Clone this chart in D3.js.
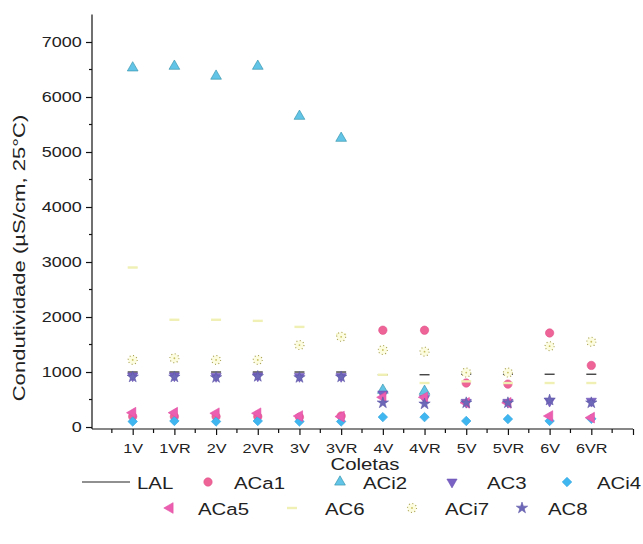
<!DOCTYPE html>
<html lang="pt">
<head>
    <meta charset="UTF-8">
    <title>Condutividade por coleta</title>
    <script src="https://d3js.org/d3.v7.min.js"></script>
    <style>
        body { margin: 0; background: #fff; }
        svg { display: block; font-family: "Liberation Sans", Arial, sans-serif; }
    </style>
</head>
<body>
    <script>
        // coletas and values (uS/cm, 25 C)
        const coletas = ["1V", "1VR", "2V", "2VR", "3V", "3VR", "4V", "4VR", "5V", "5VR", "6V", "6VR"];
        const yTicks = [0, 1000, 2000, 3000, 4000, 5000, 6000, 7000];

        const LAL  = [1000, 1000, 1000, 1000, 1000, 1000, 950, 950, 960, 960, 960, 960];
        const ACa1 = [190, 190, 190, 190, 180, 200, 1760, 1760, 800, 780, 1710, 1120];
        const ACi2 = [6530, 6560, 6380, 6560, 5650, 5250, 670, 650, null, null, null, null];
        const AC3  = [930, 930, 920, 930, 920, 920, 600, 520, 450, 450, 470, 470];
        const ACi4 = [100, 110, 100, 110, 100, 100, 180, 180, 110, 145, 110, 150];
        const ACa5 = [260, 260, 250, 250, 200, 190, 540, 540, 440, 440, 200, 170];
        const AC6  = [2900, 1950, 1950, 1930, 1820, 1680, 950, 800, 830, 800, 800, 800];
        const ACi7 = [1220, 1250, 1220, 1220, 1490, 1640, 1400, 1370, 990, 990, 1470, 1550];
        const AC8  = [910, 910, 900, 920, 900, 910, 440, 420, 440, 440, 490, 440];

        const w = 643, h = 544;
        const sx = 1.2; // the source lettering is a little wider than Arial

        const svg = d3.select("body").append("svg")
            .attr("width", w)
            .attr("height", h);

        const x = d3.scaleLinear().domain([0, 13]).range([91, 633]);
        const y = d3.scaleLinear().domain([-36, 7500]).range([429, 14.5]);

        // axes
        const yAxis = d3.axisLeft(y).tickValues(yTicks).tickFormat(d3.format("d"))
            .tickSize(6).tickPadding(2.5);
        const gy = svg.append("g").attr("transform", "translate(92,0)").call(yAxis);
        gy.select(".domain").attr("d", "M0," + y(7500) + "V" + y(-36));
        gy.selectAll(".minor").data(d3.range(500, 7500, 1000)).enter()
            .append("line").attr("class", "minor")
            .attr("x1", -3).attr("x2", 0)
            .attr("y1", d => y(d)).attr("y2", d => y(d));

        const xAxis = d3.axisBottom(x)
            .tickValues(d3.range(1, 14))
            .tickFormat(d => coletas[d - 1] || "")
            .tickSize(6).tickPadding(8);
        const gx = svg.append("g").attr("transform", "translate(0," + y(-36) + ")").call(xAxis);
        gx.select(".domain").attr("d", "M92,0H633");
        gx.selectAll(".minor").data(d3.range(0.5, 13, 1)).enter()
            .append("line").attr("class", "minor")
            .attr("x1", d => x(d)).attr("x2", d => x(d))
            .attr("y1", 0).attr("y2", 4);

        [gx, gy].forEach(g => {
            g.selectAll("path, line").attr("stroke", "#111").attr("stroke-width", 1.2);
            g.selectAll("text").attr("fill", "#222")
                .attr("font-family", "'Liberation Sans', Arial, sans-serif")
                .attr("transform", "scale(" + sx + ",1)");
        });
        gy.selectAll("text").attr("font-size", 15);
        gx.selectAll("text").attr("font-size", 13.5);

        svg.append("text")
            .attr("transform", "translate(25,258) rotate(-90) scale(1.3,1)")
            .attr("text-anchor", "middle")
            .attr("font-size", 17).attr("fill", "#222")
            .text("Condutividade (\u00B5S/cm, 25\u00B0C)");

        svg.append("text")
            .attr("transform", "translate(365,470) scale(" + sx + ",1)")
            .attr("text-anchor", "middle")
            .attr("font-size", 17).attr("fill", "#222")
            .text("Coletas");

        // marker styles
        const sym = (type, size) => d3.symbol().type(type).size(size)();
        const series = [
            { name: "LAL",  values: LAL,  kind: "line" },
            { name: "ACa1", values: ACa1, d: sym(d3.symbolCircle, 55), rot: 0, fill: "#ee6497", stroke: "#e0508a" },
            { name: "ACi2", values: ACi2, d: sym(d3.symbolTriangle, 50), rot: 0, fill: "#62c4e6", stroke: "#2f8fa6" },
            { name: "AC3",  values: AC3,  d: sym(d3.symbolTriangle, 45), rot: 180, fill: "#7a62c4", stroke: "#6a52b4" },
            { name: "ACi4", values: ACi4, d: sym(d3.symbolSquare, 45), rot: 45, fill: "#3fb6f0", stroke: "#30a4e0" },
            { name: "ACa5", values: ACa5, d: sym(d3.symbolTriangle, 50), rot: -90, fill: "#ec5fb0", stroke: "#e04ea2" },
            { name: "AC6",  values: AC6,  kind: "dash" },
            { name: "ACi7", values: ACi7, kind: "dots" },
            { name: "AC8",  values: AC8,  d: sym(d3.symbolStar, 40), rot: 0, fill: "#6e68b8", stroke: "#5e58a8" }
        ];

        function drawMarker(g, s) {
            if (s.kind === "line") {
                g.append("line").attr("x1", -5).attr("x2", 5)
                    .attr("stroke", "#222").attr("stroke-width", 1.2);
            } else if (s.kind === "dash") {
                g.append("rect").attr("x", -5).attr("y", -1.2).attr("width", 10).attr("height", 2.4)
                    .attr("fill", "#f0f0b4");
            } else if (s.kind === "dots") {
                g.append("circle").attr("r", 4.5).attr("fill", "#fcfce0")
                    .attr("stroke", "#a8a050").attr("stroke-width", 1.1)
                    .attr("stroke-dasharray", "1,2.5");
                g.append("circle").attr("r", 0.9).attr("fill", "#c8c060");
            } else {
                g.append("path").attr("d", s.d)
                    .attr("transform", "rotate(" + s.rot + ")")
                    .attr("fill", s.fill).attr("stroke", s.stroke).attr("stroke-width", 0.6);
            }
        }

        const plot = svg.append("g");
        series.forEach(s => {
            plot.selectAll(null)
                .data(s.values.map((v, i) => ({ v: v, i: i + 1 })).filter(d => d.v !== null))
                .enter().append("g")
                .attr("transform", d => "translate(" + x(d.i) + "," + y(d.v) + ")")
                .each(function() { drawMarker(d3.select(this), s); });
        });

        // legend
        const legendPos = [
            { mx: 106, tx: 137, ty: 482 },
            { mx: 208, tx: 234, ty: 482 },
            { mx: 340, tx: 363, ty: 482 },
            { mx: 452, tx: 487, ty: 482 },
            { mx: 567, tx: 597, ty: 482 },
            { mx: 170, tx: 198, ty: 508 },
            { mx: 292, tx: 325, ty: 508 },
            { mx: 412, tx: 445, ty: 508 },
            { mx: 522, tx: 548, ty: 508 }
        ];
        series.forEach((s, i) => {
            const p = legendPos[i];
            const g = svg.append("g").attr("transform", "translate(" + p.mx + "," + p.ty + ")");
            if (s.kind === "line") {
                g.append("line").attr("x1", -24).attr("x2", 24)
                    .attr("stroke", "#222").attr("stroke-width", 1.2);
            } else {
                drawMarker(g, s);
            }
            svg.append("text")
                .attr("transform", "translate(" + p.tx + "," + (p.ty + 6.5) + ") scale(" + sx + ",1)")
                .attr("font-size", 17).attr("fill", "#222")
                .text(s.name);
        });
    </script>
</body>
</html>
